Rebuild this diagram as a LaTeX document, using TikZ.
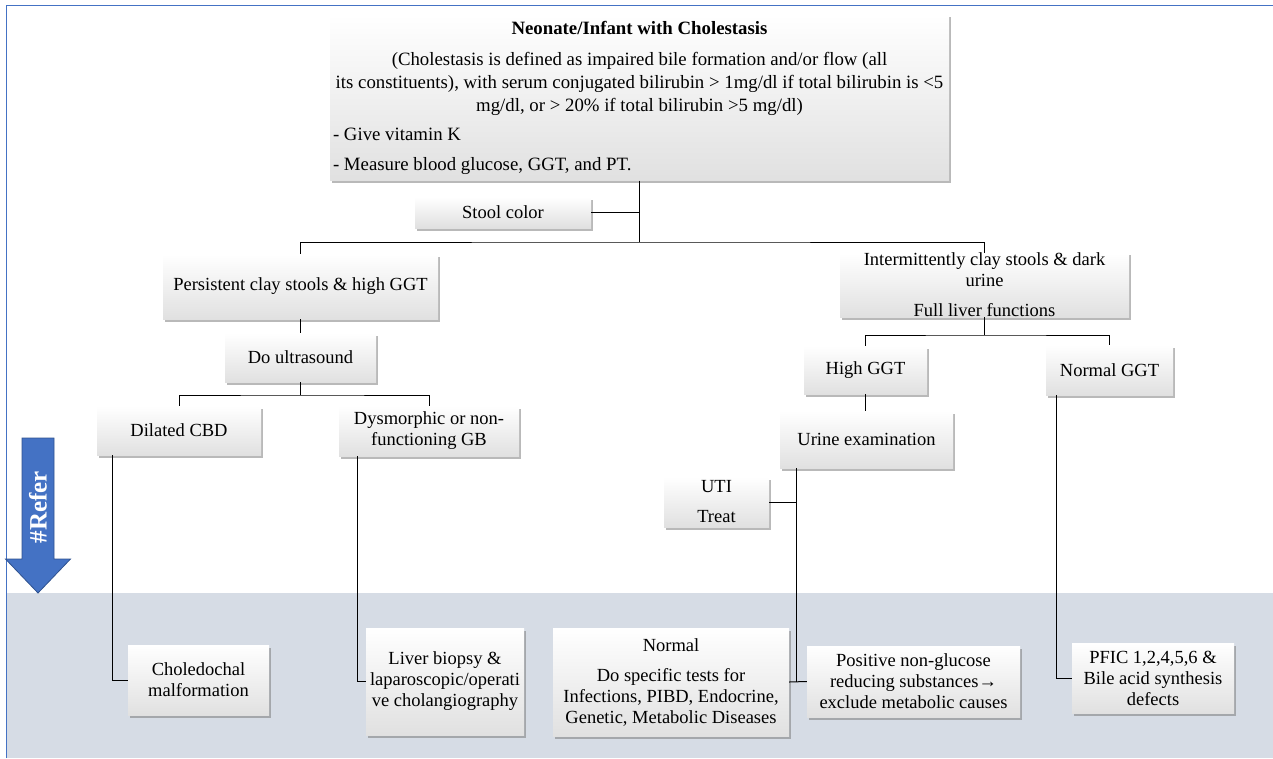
\documentclass[tikz,border=0pt]{standalone}
\usepackage{fontspec}
\setmainfont{Liberation Serif}
\usetikzlibrary{shadows}
\definecolor{frameblue}{HTML}{4472C4}
\definecolor{arrowline}{HTML}{2F528F}
\definecolor{band}{HTML}{D6DCE5}
\begin{document}
\begin{tikzpicture}[x=1pt,y=-1pt,
    card/.style={shading=axis,top color=white,bottom color=black!12,
      drop shadow={shadow xshift=2pt,shadow yshift=-2.5pt,fill=black!55,opacity=.5},
      align=center,inner sep=0pt,font=\fontsize{18.5}{21}\selectfont},
    link/.style={line width=1pt}]
    \useasboundingbox (0,0) rectangle (1273,758);
    \fill[band] (7,593) rectangle (1273,758);
    \draw[frameblue,line width=1.5pt] (6.5,758) |- (1273,5.5);
    \filldraw[fill=frameblue,draw=arrowline,line width=.8pt] (22,438) -- (54,438) -- (54,559) -- (70.5,559)
        -- (38,593) -- (5.5,559) -- (22,559) -- cycle;
    \node[rotate=90,text=white,font=\bfseries\fontsize{25}{25}\selectfont] (refer) at (38,507) {\#Refer};

    \node[card,minimum width=619pt,minimum height=166pt,font=\fontsize{18.8}{21}\selectfont] (top) at (639.5,97.5)
        {\textbf{Neonate/Infant with Cholestasis}\\[10pt]
         (Cholestasis is defined as impaired bile formation and/or flow (all\\[2pt]
         its constituents), with serum conjugated bilirubin > 1mg/dl if total bilirubin is <5\\[2pt]
         mg/dl, or > 20\% if total bilirubin >5 mg/dl)\\[8pt]
         \makebox[613pt][l]{- Give vitamin K}\\[9pt]
         \makebox[613pt][l]{- Measure blood glucose, GGT, and PT.}};
    \node[card,minimum width=176pt,minimum height=31pt] (stool) at (503,212.5) {Stool color};
    \node[card,minimum width=275pt,minimum height=65pt] (persist) at (300.5,286.5) {Persistent clay stools \& high GGT};
    \node[card,minimum width=151pt,minimum height=49pt] (ultra) at (300.5,357.5) {Do ultrasound};
    \node[card,minimum width=164pt,minimum height=49pt] (cbd) at (179,430.5) {Dilated CBD};
    \node[card,minimum width=180pt,minimum height=50pt] (gb) at (429,431) {Dysmorphic or non-\\functioning GB};
    \node[card,minimum width=141pt,minimum height=70pt] (chol) at (198.5,680) {Choledochal\\malformation};
    \node[card,minimum width=158pt,minimum height=107pt] (liver) at (445,681.5)
        {Liver biopsy \&\\laparoscopic/operati\\ve cholangiography};
    \node[card,minimum width=289pt,minimum height=62pt] (interm) at (984.5,285)
        {Intermittently clay stools \& dark\\urine\\[9pt]Full liver functions};
    \node[card,minimum width=123pt,minimum height=48pt] (high) at (865.5,370) {High GGT};
    \node[card,minimum width=127pt,minimum height=50pt] (normg) at (1109.5,370) {Normal GGT};
    \node[card,minimum width=173pt,minimum height=57pt] (urine) at (866.5,439.5) {Urine examination};
    \node[card,minimum width=105pt,minimum height=50pt] (uti) at (716.5,502) {UTI\\[9pt]Treat};
    \node[card,minimum width=236pt,minimum height=108pt] (normal) at (671,682)
        {Normal\\[9pt]Do specific tests for\\Infections, PIBD, Endocrine,\\Genetic, Metabolic Diseases};
    \node[card,minimum width=213pt,minimum height=71pt] (pos) at (913.5,681.5)
        {Positive non-glucose\\reducing substances→\\exclude metabolic causes};
    \node[card,minimum width=162pt,minimum height=70pt] (pfic) at (1153,678)
        {PFIC 1,2,4,5,6 \&\\Bile acid synthesis\\defects};

    \coordinate (split) at (639.5,242);
    \coordinate (usplit) at (300.5,395);
    \coordinate (isplit) at (984.5,335);
    \coordinate (ufoot) at (796,682);
    \draw[link] (top) -- (split);
    \draw[link] (stool.east) -| (split);
    \draw[link] (persist.north) |- (split) -| (interm.north);
    \draw[link] (persist) -- (ultra);
    \draw[link] (ultra) -- (usplit);
    \draw[link] (cbd.north) |- (usplit) -| (gb.north);
    \draw[link] (interm) -- (isplit);
    \draw[link] (high.north) |- (isplit) -| (normg.north);
    \draw[link] (high) -- (high |- urine.north);
    \draw[link] (ufoot |- urine.south) -- (ufoot);
    \draw[link] (uti.east) -- (uti.east -| ufoot);
    \draw[link] (normal.east) -- (pos.west);
    \foreach \a/\b/\d in {cbd/chol/16, gb/liver/19, normg/pfic/11}
        \draw[link] ([xshift=\d]\a.south west) |- (\b.west);
\end{tikzpicture}
\end{document}
